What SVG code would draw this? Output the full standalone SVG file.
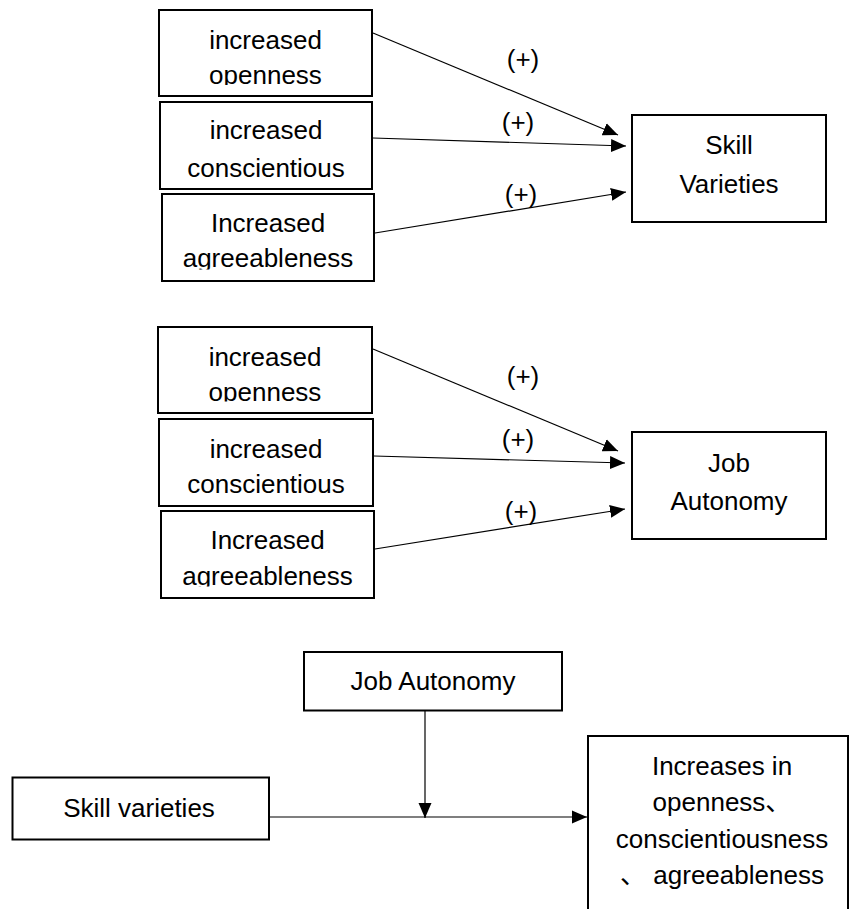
<svg xmlns="http://www.w3.org/2000/svg" width="849" height="909" viewBox="0 0 849 909">
<style>
  .box { fill: #ffffff; stroke: #000000; stroke-width: 2; }
  .t { font-family: "Liberation Sans", "Noto Sans CJK SC", sans-serif; font-size: 26px; fill: #000000; text-anchor: middle; }
  .edge { stroke: #000000; stroke-width: 1.2; fill: none; marker-end: url(#arrow); }
</style>
<defs>
  <marker id="arrow" markerUnits="userSpaceOnUse" markerWidth="16" markerHeight="14" refX="15" refY="7" orient="auto">
    <path d="M0,0.5 L15,7 L0,13.5 z" fill="#000000"/>
  </marker>
  <clipPath id="c1"><rect x="150" y="0" width="240" height="85"/></clipPath>
  <clipPath id="c3"><rect x="150" y="190" width="240" height="79.5"/></clipPath>
  <clipPath id="c4"><rect x="150" y="310" width="240" height="91.5"/></clipPath>
  <clipPath id="c6"><rect x="150" y="505" width="240" height="81.5"/></clipPath>
</defs>

<g id="connectors">
  <path class="edge" d="M373,33 L618,135"/>
  <path class="edge" d="M373,138 L626,146"/>
  <path class="edge" d="M375,233 L626,192"/>
  <path class="edge" d="M373,349 L618,451"/>
  <path class="edge" d="M374,456 L625,463"/>
  <path class="edge" d="M375,549 L625,509"/>
  <path class="edge" d="M425,711 L425,818"/>
  <path class="edge" d="M269,817 L587,817"/>
  <text class="t" x="523" y="68">(+)</text>
  <text class="t" x="518" y="131">(+)</text>
  <text class="t" x="521" y="203">(+)</text>
  <text class="t" x="523" y="385">(+)</text>
  <text class="t" x="518" y="448">(+)</text>
  <text class="t" x="521" y="520">(+)</text>
</g>

<g id="open1">
  <rect class="box" x="159" y="10" width="213" height="86"/>
  <g clip-path="url(#c1)">
    <text class="t" x="265.5" y="49">increased</text>
    <text class="t" x="265.5" y="84">openness</text>
  </g>
</g>
<g id="consc1">
  <rect class="box" x="160" y="102" width="212" height="87"/>
  <text class="t" x="266" y="139">increased</text>
  <text class="t" x="266" y="176.5">conscientious</text>
</g>
<g id="agree1">
  <rect class="box" x="162" y="194" width="212" height="87"/>
  <g clip-path="url(#c3)">
    <text class="t" x="268" y="231.5">Increased</text>
    <text class="t" x="268" y="266.5">agreeableness</text>
  </g>
</g>
<g id="skill1">
  <rect class="box" x="632" y="115" width="194" height="107"/>
  <text class="t" x="729" y="154">Skill</text>
  <text class="t" x="729" y="193">Varieties</text>
</g>

<g id="open2">
  <rect class="box" x="158" y="327" width="214" height="86"/>
  <g clip-path="url(#c4)">
    <text class="t" x="265" y="366">increased</text>
    <text class="t" x="265" y="400.5">openness</text>
  </g>
</g>
<g id="consc2">
  <rect class="box" x="159" y="419" width="214" height="87"/>
  <text class="t" x="266" y="458">increased</text>
  <text class="t" x="266" y="493">conscientious</text>
</g>
<g id="agree2">
  <rect class="box" x="161" y="511" width="213" height="87"/>
  <g clip-path="url(#c6)">
    <text class="t" x="267.5" y="549">Increased</text>
    <text class="t" x="267.5" y="584.5">agreeableness</text>
  </g>
</g>
<g id="autonomy1">
  <rect class="box" x="632" y="432" width="194" height="107"/>
  <text class="t" x="729" y="472">Job</text>
  <text class="t" x="729" y="510">Autonomy</text>
</g>

<g id="autonomy2">
  <rect class="box" x="304" y="652" width="258" height="58.5"/>
  <text class="t" x="433" y="690">Job Autonomy</text>
</g>
<g id="skill2">
  <rect class="box" x="12.5" y="777.5" width="256.5" height="62"/>
  <text class="t" x="139" y="816.5">Skill varieties</text>
</g>
<g id="outcome">
  <rect class="box" x="588" y="736" width="260" height="200"/>
  <text class="t" x="722" y="775">Increases in</text>
  <text class="t" x="722" y="811">openness、</text>
  <text class="t" x="722" y="848">conscientiousness</text>
  <text class="t" x="722" y="884">、 agreeableness</text>
</g>
</svg>
